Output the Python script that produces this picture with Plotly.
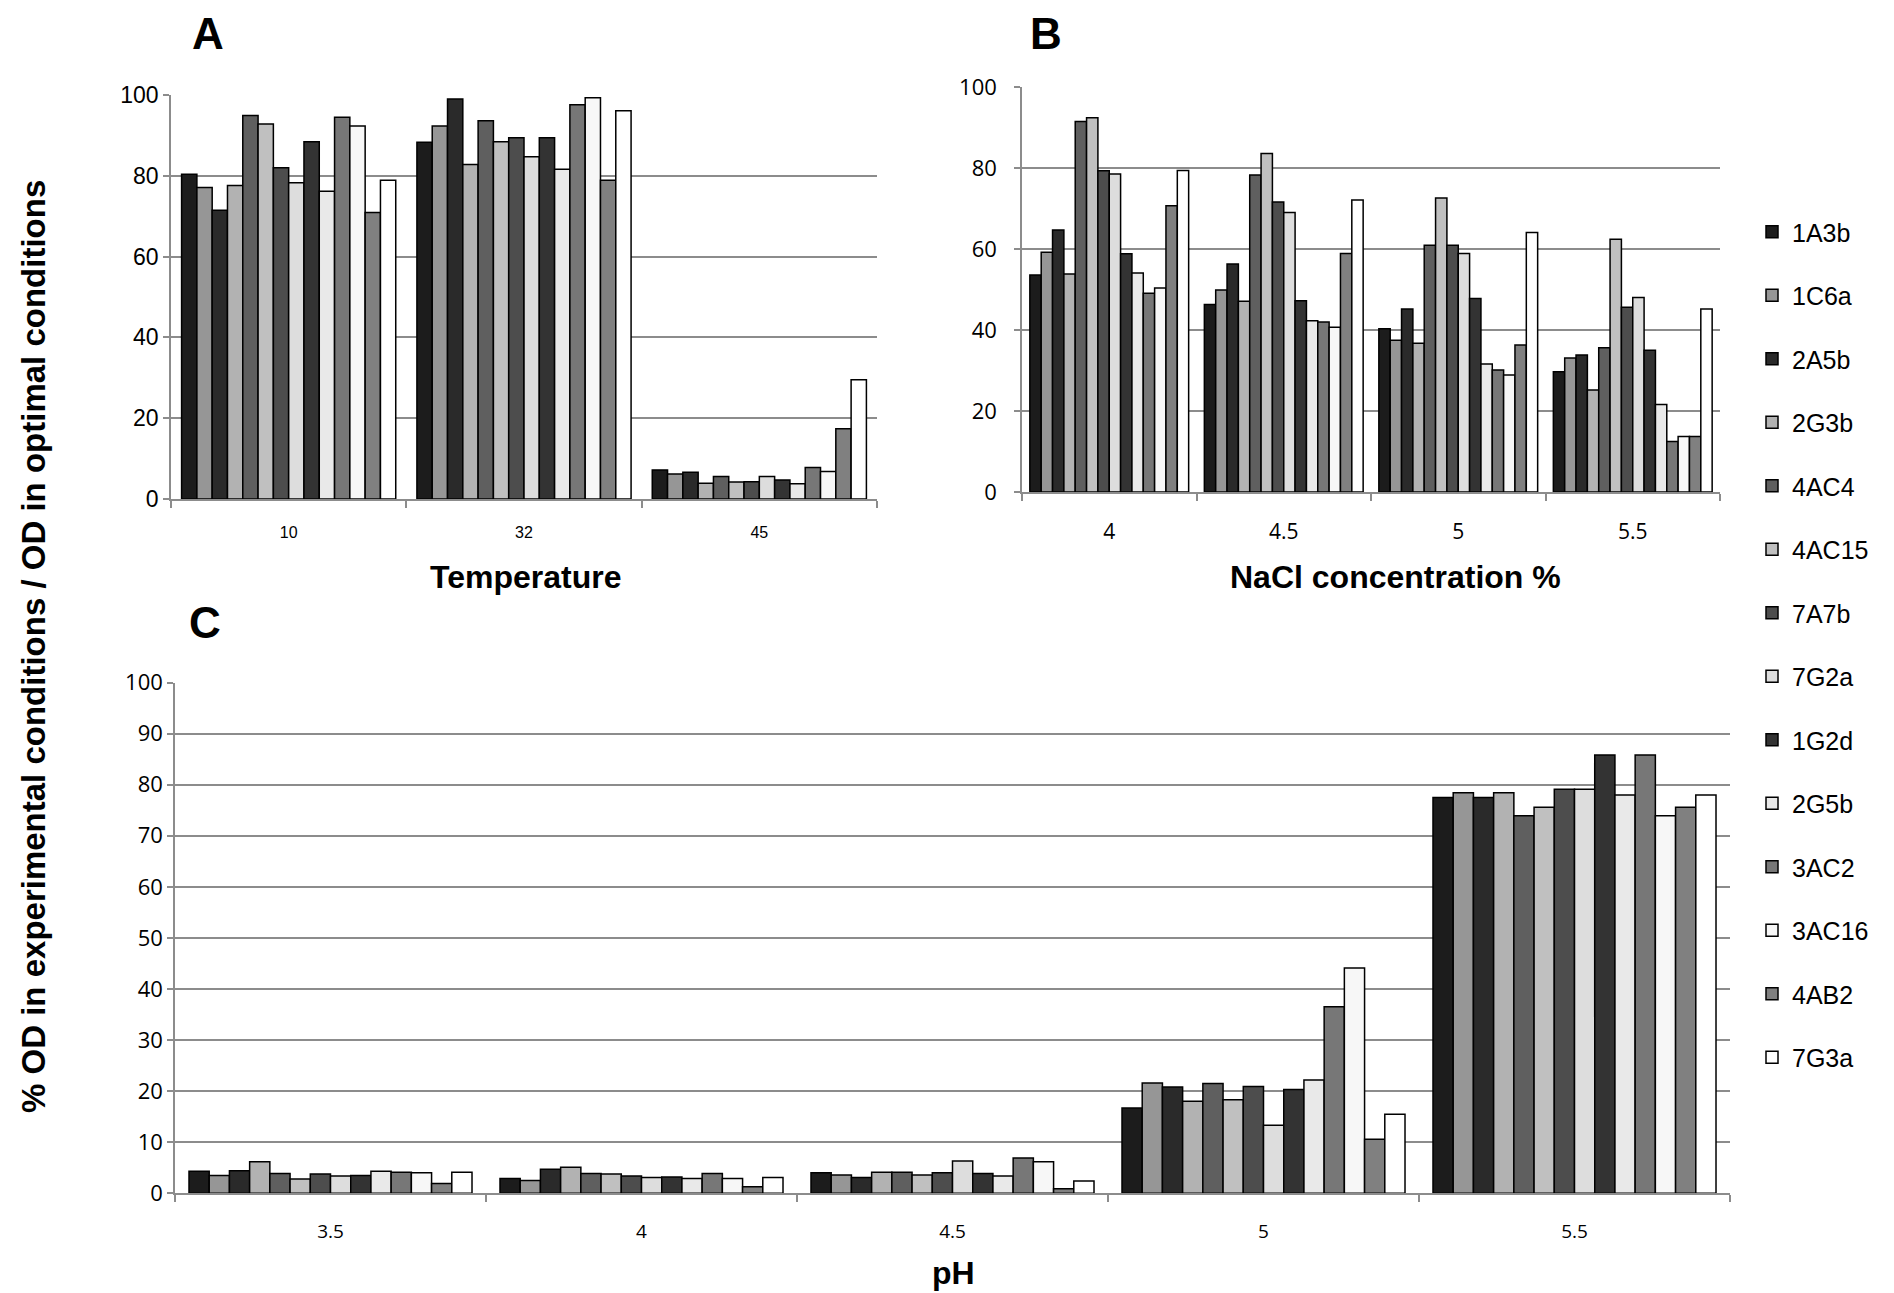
import plotly.graph_objects as go

# ---------------- data ----------------
strains = ["1A3b", "1C6a", "2A5b", "2G3b", "4AC4", "4AC15", "7A7b",
           "7G2a", "1G2d", "2G5b", "3AC2", "3AC16", "4AB2", "7G3a"]
colors = ["#1c1c1c", "#969696", "#2a2a2a", "#b2b2b2", "#5f5f5f", "#c0c0c0", "#4d4d4d",
          "#dddddd", "#333333", "#e9e9e9", "#777777", "#f7f7f7", "#808080", "#ffffff"]

temp_cats = ["10", "32", "45"]
nacl_cats = ["4", "4.5", "5", "5.5"]
ph_cats = ["3.5", "4", "4.5", "5", "5.5"]

# values per strain, one value per category
temp_vals = {
    "1A3b": [80.4, 88.3, 7.2], "1C6a": [77.1, 92.3, 6.2], "2A5b": [71.5, 99.0, 6.6],
    "2G3b": [77.6, 82.8, 3.9], "4AC4": [94.9, 93.6, 5.6], "4AC15": [92.8, 88.4, 4.2],
    "7A7b": [82.0, 89.4, 4.3], "7G2a": [78.3, 84.7, 5.6], "1G2d": [88.4, 89.4, 4.7],
    "2G5b": [76.2, 81.6, 3.8], "3AC2": [94.5, 97.6, 7.8], "3AC16": [92.3, 99.3, 6.8],
    "4AB2": [70.9, 78.9, 17.4], "7G3a": [78.9, 96.1, 29.5],
}
nacl_vals = {
    "1A3b": [53.6, 46.3, 40.3, 29.7], "1C6a": [59.2, 49.9, 37.5, 33.1],
    "2A5b": [64.7, 56.3, 45.2, 33.8], "2G3b": [53.8, 47.1, 36.7, 25.2],
    "4AC4": [91.5, 78.3, 60.9, 35.6], "4AC15": [92.4, 83.6, 72.6, 62.4],
    "7A7b": [79.3, 71.6, 60.9, 45.6], "7G2a": [78.5, 69.0, 58.9, 48.0],
    "1G2d": [58.8, 47.2, 47.8, 35.0], "2G5b": [54.1, 42.3, 31.6, 21.6],
    "3AC2": [49.1, 42.0, 30.1, 12.5], "3AC16": [50.4, 40.7, 28.9, 13.7],
    "4AB2": [70.7, 58.9, 36.3, 13.7], "7G3a": [79.4, 72.1, 64.1, 45.2],
}
ph_vals = {
    "1A3b": [4.3, 2.9, 4.0, 16.7, 77.5], "1C6a": [3.5, 2.5, 3.6, 21.6, 78.4],
    "2A5b": [4.4, 4.7, 3.1, 20.8, 77.5], "2G3b": [6.2, 5.1, 4.1, 18.0, 78.4],
    "4AC4": [3.9, 3.9, 4.1, 21.5, 73.9], "4AC15": [2.8, 3.8, 3.6, 18.3, 75.6],
    "7A7b": [3.8, 3.4, 4.0, 20.9, 79.1], "7G2a": [3.4, 3.1, 6.3, 13.3, 79.1],
    "1G2d": [3.5, 3.2, 3.9, 20.3, 85.8], "2G5b": [4.3, 2.9, 3.4, 22.2, 78.0],
    "3AC2": [4.1, 3.9, 6.9, 36.5, 85.8], "3AC16": [4.0, 2.9, 6.2, 44.1, 73.9],
    "4AB2": [1.9, 1.3, 0.9, 10.6, 75.6], "7G3a": [4.1, 3.1, 2.4, 15.5, 78.0],
}

W, H = 1894, 1293
OFF = 8  # page body margin


def px(x):
    return (x - OFF) / W


def py(y):
    return 1 - (y - OFF) / H


fig = go.Figure()

panels = [
    ("x", "y", temp_cats, temp_vals, True),
    ("x2", "y2", nacl_cats, nacl_vals, False),
    ("x3", "y3", ph_cats, ph_vals, False),
]
for xa, ya, cats, vals, show in panels:
    for s, c in zip(strains, colors):
        fig.add_trace(go.Bar(
            x=cats, y=vals[s], name=s, xaxis=xa, yaxis=ya,
            marker=dict(color=c, line=dict(color="#000000", width=1.5)),
            legendgroup=s, showlegend=show,
        ))

grid = "#8c8c8c"
common_x = dict(type="category", showgrid=False, showline=True, linecolor=grid, linewidth=1.5,
                ticks="outside", tickson="boundaries", ticklen=7, tickcolor=grid, tickwidth=1.5,
                zeroline=False, automargin=False)
common_y = dict(showgrid=True, gridcolor=grid, gridwidth=1.5, showline=True, linecolor=grid,
                linewidth=1.5, ticks="outside", ticklen=6, tickcolor=grid, tickwidth=1.5,
                zeroline=False, automargin=False)

calib = "Open Sans, Lato, sans-serif"
arial = "Liberation Sans, Arial, sans-serif"

fig.update_layout(
    width=W, height=H,
    margin=dict(l=0, r=0, t=0, b=0, autoexpand=False),
    paper_bgcolor="white", plot_bgcolor="white",
    barmode="group", bargap=0.09, bargroupgap=0,
    font=dict(family=arial, color="#000000"),
    xaxis=dict(common_x, domain=[px(171), px(877)], anchor="y",
               tickfont=dict(family=arial, size=16), ticklabelstandoff=18),
    yaxis=dict(common_y, domain=[py(499), py(95)], anchor="x", range=[0, 100],
               dtick=20, tickfont=dict(family=arial, size=23), ticklabelstandoff=0),
    xaxis2=dict(common_x, domain=[px(1022), px(1720)], anchor="y2",
                tickfont=dict(family=calib, size=21), ticklabelstandoff=20),
    yaxis2=dict(common_y, domain=[py(492), py(87)], anchor="x2", range=[0, 100],
                dtick=20, tickfont=dict(family=calib, size=22), ticklabelstandoff=13),
    xaxis3=dict(common_x, domain=[px(175), px(1730)], anchor="y3",
                tickfont=dict(family=calib, size=19), ticklabelstandoff=20),
    yaxis3=dict(common_y, domain=[py(1193.3), py(682.5)], anchor="x3", range=[0, 100],
                dtick=10, tickfont=dict(family=calib, size=22), ticklabelstandoff=0),
    legend=dict(x=px(1752), y=py(209), xanchor="left", yanchor="top",
                font=dict(family=arial, size=25), tracegroupgap=28,
                bgcolor="rgba(0,0,0,0)", itemwidth=30),
)

ann = [
    dict(text="<b>A</b>", x=px(208), y=1.0, size=44, ya="top"),
    dict(text="<b>B</b>", x=px(1046), y=1.0, size=44, ya="top"),
    dict(text="<b>C</b>", x=px(205), y=py(622), size=44, ya="middle"),
    dict(text="<b>Temperature</b>", x=px(525), y=py(577), size=32, ya="middle"),
    dict(text="<b>NaCl concentration %</b>", x=px(1395), y=py(577), size=32, ya="middle"),
    dict(text="<b>pH</b>", x=px(953), y=py(1273), size=32, ya="middle"),
]
for a in ann:
    fig.add_annotation(text=a["text"], x=a["x"], y=a["y"], xref="paper", yref="paper",
                       showarrow=False, xanchor="center", yanchor=a["ya"], borderpad=0,
                       font=dict(family=arial, size=a["size"], color="#000000"))

fig.add_annotation(text="<b>% OD in experimental conditions / OD in optimal conditions</b>",
                   x=px(33), y=py(647), xref="paper", yref="paper", showarrow=False,
                   textangle=-90, xanchor="center", yanchor="middle",
                   font=dict(family=arial, size=33, color="#000000"))

fig.write_html("out.html")
